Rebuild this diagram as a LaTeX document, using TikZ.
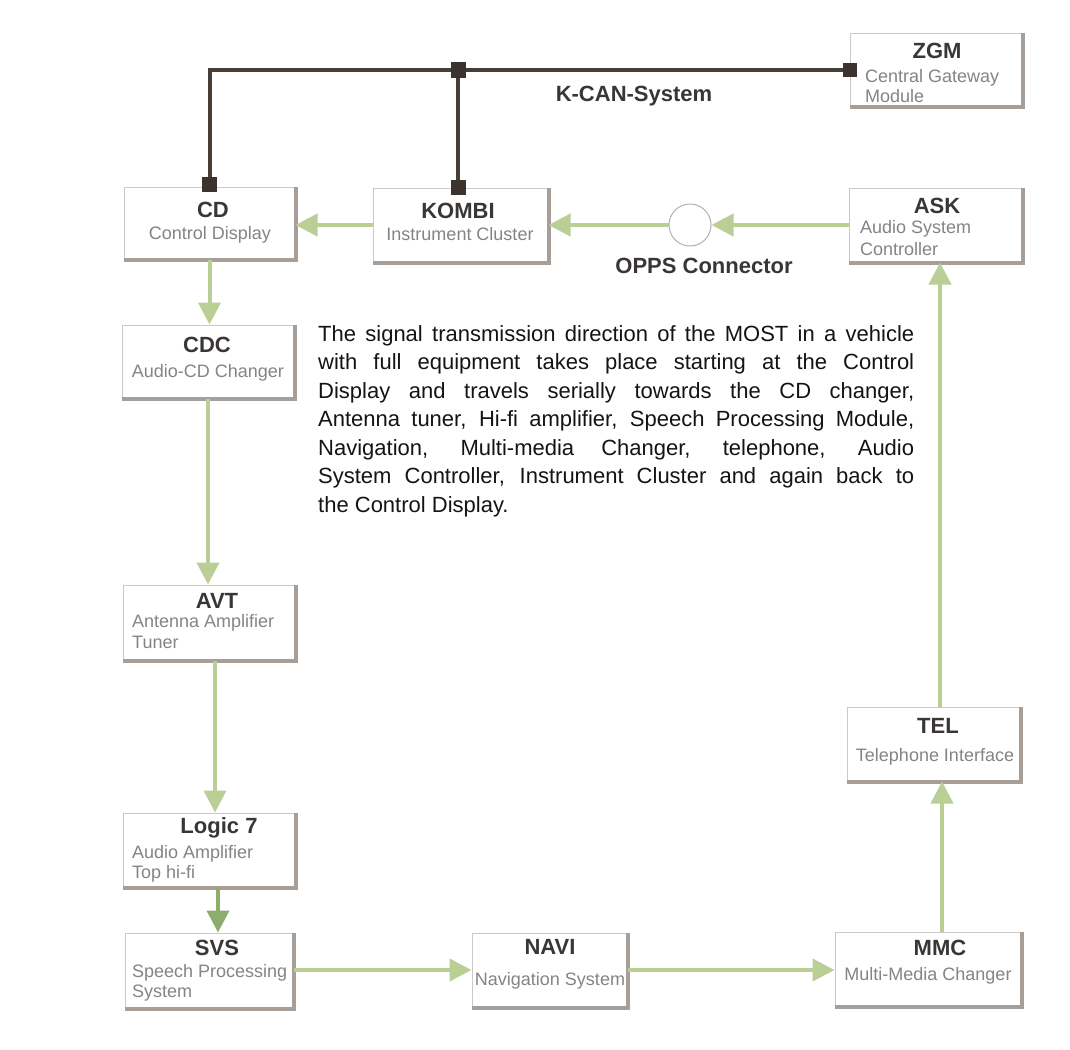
\documentclass[tikz,border=0pt]{standalone}
\usepackage{fontspec}
\setmainfont{Liberation Sans}
\usetikzlibrary{arrows.meta}
\definecolor{mostgreen}{RGB}{186,207,150}
\definecolor{mostdark}{RGB}{142,172,108}
\definecolor{kcanc}{RGB}{72,62,56}
\definecolor{sqc}{RGB}{60,50,46}
\definecolor{boxline}{RGB}{205,200,196}
\definecolor{shadowc}{RGB}{168,158,152}
\definecolor{titlec}{RGB}{58,54,54}
\definecolor{subc}{RGB}{132,132,132}
\definecolor{paratext}{RGB}{20,20,20}
\tikzset{
  ecubox/.style={draw=boxline, line width=1pt, fill=white, inner sep=0pt},
  shadowline/.style={draw=shadowc, line width=4pt},
  flow/.style={draw=mostgreen, line width=4pt, -{Triangle[length=22pt,width=22pt]}},
  flowdark/.style={draw=mostdark, line width=4pt, -{Triangle[length=22pt,width=22pt]}},
  kcan/.style={draw=kcanc, line width=4pt},
  sq/.style={fill=sqc, minimum size=15pt, inner sep=0pt},
  ttl/.style={anchor=base, inner sep=0pt, text=titlec, font=\fontsize{22}{26}\selectfont\bfseries},
  sub/.style={anchor=base, inner sep=0pt, text=subc, font=\fontsize{18}{21}\selectfont},
  subl/.style={sub, anchor=base west},
  para/.style={anchor=base west, inner sep=0pt, text=paratext, font=\fontsize{22}{28}\selectfont},
  lbl/.style={anchor=base, inner sep=0pt, text=titlec, font=\fontsize{22}{26}\selectfont\bfseries},
}
\begin{document}
\begin{tikzpicture}[x=1pt,y=-1pt]
\useasboundingbox[fill=white] (0,0) rectangle (1070,1049);

% boxes
\node[ecubox, minimum width=172pt, minimum height=73pt] (ZGM) at (936,70) {};
\node[ecubox, minimum width=171pt, minimum height=72pt] (CD) at (209.5,223) {};
\node[ecubox, minimum width=175pt, minimum height=74pt] (KOMBI) at (460.5,225) {};
\node[ecubox, minimum width=173pt, minimum height=74pt] (ASK) at (935.5,225) {};
\node[ecubox, minimum width=172pt, minimum height=73pt] (CDC) at (208,361.5) {};
\node[ecubox, minimum width=172pt, minimum height=75pt] (AVT) at (209,622.5) {};
\node[ecubox, minimum width=172pt, minimum height=74pt] (L7) at (209,850) {};
\node[ecubox, minimum width=168pt, minimum height=75pt] (SVS) at (209,970.5) {};
\node[ecubox, minimum width=155pt, minimum height=74pt] (NAVI) at (549.5,970) {};
\node[ecubox, minimum width=186pt, minimum height=74pt] (MMC) at (928,969) {};
\node[ecubox, minimum width=173pt, minimum height=74pt] (TEL) at (933.5,744) {};

% box shadows (right and bottom)
\foreach \b in {ZGM,CD,KOMBI,ASK,CDC,AVT,L7,SVS,NAVI,MMC,TEL}{
  \draw[shadowline] (\b.north east) -- (\b.south east) -- (\b.south west);
}

% OPPS connector
\node[circle, draw=gray!60, line width=1pt, fill=white, minimum size=42pt, inner sep=0pt] (OPPS) at (690,225) {};

% K-CAN bus
\coordinate (J) at (458,70);
\draw[kcan] (CD.north) |- (ZGM.west);
\draw[kcan] (J) -- (J |- KOMBI.north);
\node[sq] (s1) at ([yshift=2pt]CD.north) {};
\node[sq] (s2) at (J) {};
\node[sq] (s3) at (J |- KOMBI.north) {};
\node[sq, minimum size=14pt] (s4) at (ZGM.west) {};

% MOST ring
\draw[flow] (KOMBI.west) -- (KOMBI.west -| CD.east);
\draw[flow] (ASK.west) -- (OPPS.east);
\draw[flow] (OPPS.west) -- (KOMBI.east);
\draw[flow] (CD.south) -- (CD.south |- CDC.north);
\draw[flow] (CDC.south) -- (CDC.south |- AVT.north);
\draw[flow] ([xshift=6pt]AVT.south) -- ([xshift=6pt]AVT.south |- L7.north);
\draw[flowdark] ([xshift=9pt]L7.south) -- ([xshift=9pt]L7.south |- SVS.north);
\draw[flow] (SVS.east |- NAVI.west) -- (NAVI.west);
\draw[flow] (NAVI.east) -- (NAVI.east -| MMC.west);
\draw[flow] ([xshift=14pt]MMC.north) -- ([xshift=14pt]MMC.north |- TEL.south);
\draw[flow] ([xshift=6.5pt]TEL.north) -- ([xshift=6.5pt]TEL.north |- ASK.south);

% box texts
\node[ttl] (tZGM) at (937,59) {ZGM};
\node[subl] (sZGM1) at (865,82) {Central Gateway};
\node[subl] (sZGM2) at (865,102) {Module};

\node[ttl] (tCD) at (213,217) {CD};
\node[sub] (sCD) at (210,239) {Control Display};

\node[ttl] (tKOMBI) at (458,218) {KOMBI};
\node[sub] (sKOMBI) at (460,240) {Instrument Cluster};

\node[ttl] (tASK) at (937,213) {ASK};
\node[subl] (sASK1) at (860,233) {Audio System};
\node[subl] (sASK2) at (860,255) {Controller};

\node[ttl] (tCDC) at (207,352) {CDC};
\node[sub] (sCDC) at (208,377) {Audio-CD Changer};

\node[ttl] (tAVT) at (217,608) {AVT};
\node[subl] (sAVT1) at (132,627) {Antenna Amplifier};
\node[subl] (sAVT2) at (132,648) {Tuner};

\node[ttl] (tL7) at (219,833) {Logic 7};
\node[subl] (sL71) at (132,858) {Audio Amplifier};
\node[subl] (sL72) at (132,878) {Top hi-fi};

\node[ttl] (tSVS) at (217,955) {SVS};
\node[subl] (sSVS1) at (132,977) {Speech Processing};
\node[subl] (sSVS2) at (132,997) {System};

\node[ttl] (tNAVI) at (550,954) {NAVI};
\node[sub] (sNAVI) at (550,985) {Navigation System};

\node[ttl] (tMMC) at (940,955) {MMC};
\node[sub] (sMMC) at (928,980) {Multi-Media Changer};

\node[ttl] (tTEL) at (938,733) {TEL};
\node[sub] (sTEL) at (935,761) {Telephone Interface};

% labels
\node[lbl] (kcanlbl) at (634,101) {K-CAN-System};
\node[lbl] (oppslbl) at (704,273) {OPPS Connector};

% paragraph
\node[para] (p1) at (318,341) {\makebox[596pt][s]{The signal transmission direction of the MOST in a vehicle}};
\node[para] (p2) at (318,369.5) {\makebox[596pt][s]{with full equipment takes place starting at the Control}};
\node[para] (p3) at (318,398) {\makebox[596pt][s]{Display and travels serially towards the CD changer,}};
\node[para] (p4) at (318,426.5) {\makebox[596pt][s]{Antenna tuner, Hi-fi amplifier, Speech Processing Module,}};
\node[para] (p5) at (318,455) {\makebox[596pt][s]{Navigation, Multi-media Changer, telephone, Audio}};
\node[para] (p6) at (318,483.5) {\makebox[596pt][s]{System Controller, Instrument Cluster and again back to}};
\node[para] (p7) at (318,512) {the Control Display.};
\end{tikzpicture}
\end{document}
